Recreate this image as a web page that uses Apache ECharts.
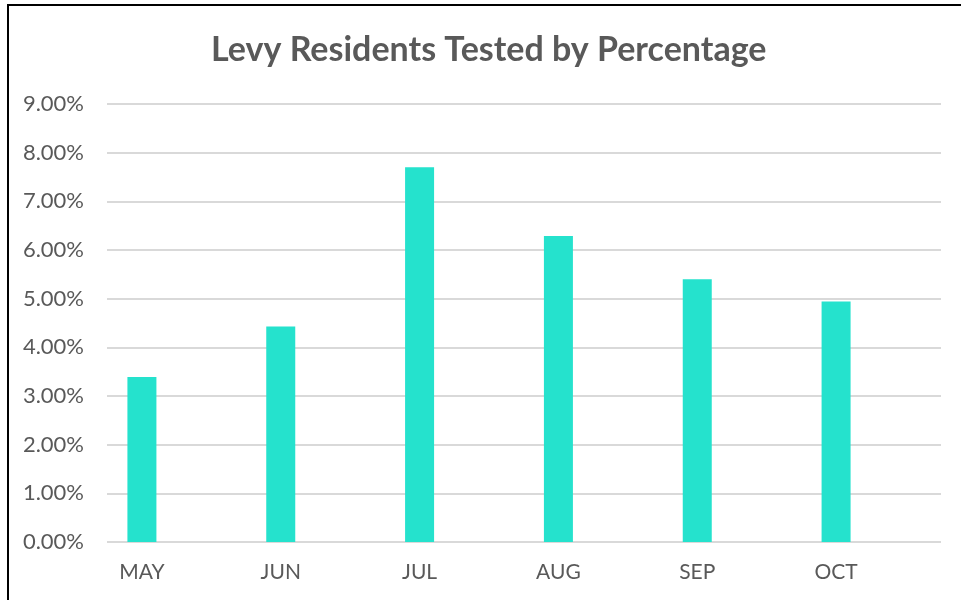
<!DOCTYPE html>
<html>
<head>
<meta charset="utf-8">
<script src="https://cdn.jsdelivr.net/npm/echarts@6/dist/echarts.min.js"></script>
<style>
  html, body { margin: 0; padding: 0; background: #ffffff; }
  #chart { width: 961px; height: 600px; }
</style>
</head>
<body>
<div id="chart"></div>
<script>
const titleText = 'Levy Residents Tested by Percentage';
const categories = ['MAY', 'JUN', 'JUL', 'AUG', 'SEP', 'OCT'];
const values = [3.39, 4.43, 7.70, 6.29, 5.40, 4.94];
const yMin = 0, yMax = 9, yStep = 1;

const chart = echarts.init(document.getElementById('chart'), null, { renderer: 'canvas' });
const textColor = '#595959';
const font = 'Lato, "Open Sans", sans-serif';

chart.setOption({
  animation: false,
  backgroundColor: '#ffffff',
  title: {
    text: titleText,
    left: 206,
    top: 28,
    textStyle: { fontFamily: font, fontWeight: 'bold', fontSize: 34, color: textColor }
  },
  graphic: [{
    type: 'rect',
    shape: { x: 8, y: 5, width: 1200, height: 1200 },
    style: { fill: 'none', stroke: '#000000', lineWidth: 2 },
    silent: true,
    z: 100
  }],
  grid: [
    { left: 72.5, right: 55.5, top: 104, bottom: 58 },
    { left: 107, right: 20, top: 104, bottom: 58 }
  ],
  xAxis: [
    {
      type: 'category', gridIndex: 0, data: categories,
      axisLine: { show: false }, axisTick: { show: false },
      axisLabel: { margin: 20, fontFamily: font, fontSize: 21, color: textColor }
    },
    { type: 'value', gridIndex: 1, show: false, min: 0, max: 1 }
  ],
  yAxis: [
    { type: 'value', gridIndex: 0, show: false, min: yMin, max: yMax, interval: yStep },
    {
      type: 'value', gridIndex: 1, min: yMin, max: yMax, interval: yStep,
      axisLine: { show: false }, axisTick: { show: false },
      axisLabel: { margin: 23, fontFamily: font, fontSize: 22, color: textColor,
        formatter: v => v.toFixed(2) + '%' },
      splitLine: { lineStyle: { color: '#d9d9d9', width: 2 } }
    }
  ],
  series: [{
    type: 'bar', xAxisIndex: 0, yAxisIndex: 0,
    data: values, barWidth: 29,
    itemStyle: { color: '#25E2CD' }
  }]
});
</script>
</body>
</html>
